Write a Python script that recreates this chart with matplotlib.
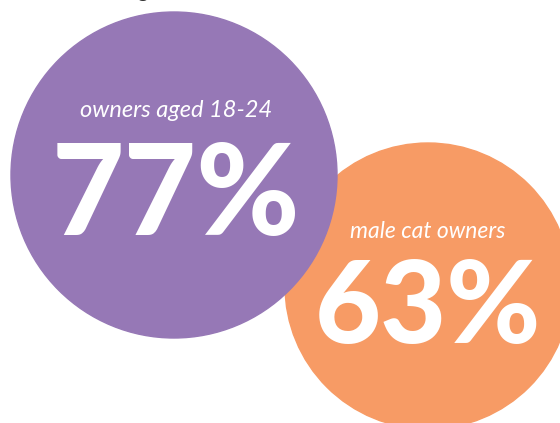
import matplotlib.pyplot as plt
from matplotlib.patches import Circle

labels = ["owners aged 18-24", "male cat owners"]
values = [77, 63]

# layout in pixel coordinates (x, y from top, radius), drawn orange first so purple sits on top
centers = [(174, 175), (428, 286)]
radii = [163, 143]
colors = ["#9678b6", "#f79b65"]
label_y = [117, 238]
value_y = [235, 343]
label_size = [17, 16.5]
value_size = [90, 82]

fig = plt.figure(figsize=(5.6, 4.23), dpi=100)
ax = fig.add_axes([0, 0, 1, 1])
ax.set_xlim(0, 560)
ax.set_ylim(423, 0)
ax.set_aspect("equal")
ax.axis("off")

for i in [1, 0]:
    cx, cy = centers[i]
    ax.add_patch(Circle((cx, cy), radii[i], color=colors[i], zorder=2 if i == 0 else 1))
    ax.text(cx + (2 if i == 0 else 0), label_y[i], labels[i], color="white", fontsize=label_size[i],
            family=["Lato", "DejaVu Sans"], style="italic", ha="center", va="baseline",
            zorder=3)
    ax.text(cx + (2 if i == 0 else 0), value_y[i], f"{values[i]}%", color="white",
            fontsize=value_size[i], family=["Lato", "DejaVu Sans"], weight="black",
            ha="center", va="baseline", zorder=3)

# cut-off heading at the very top
ax.text(143, -2, "g", color="#333333", fontsize=14, family=["Lato", "DejaVu Sans"],
        weight="bold", ha="center", va="baseline", clip_on=True)

fig.savefig("out.png", dpi=100)
